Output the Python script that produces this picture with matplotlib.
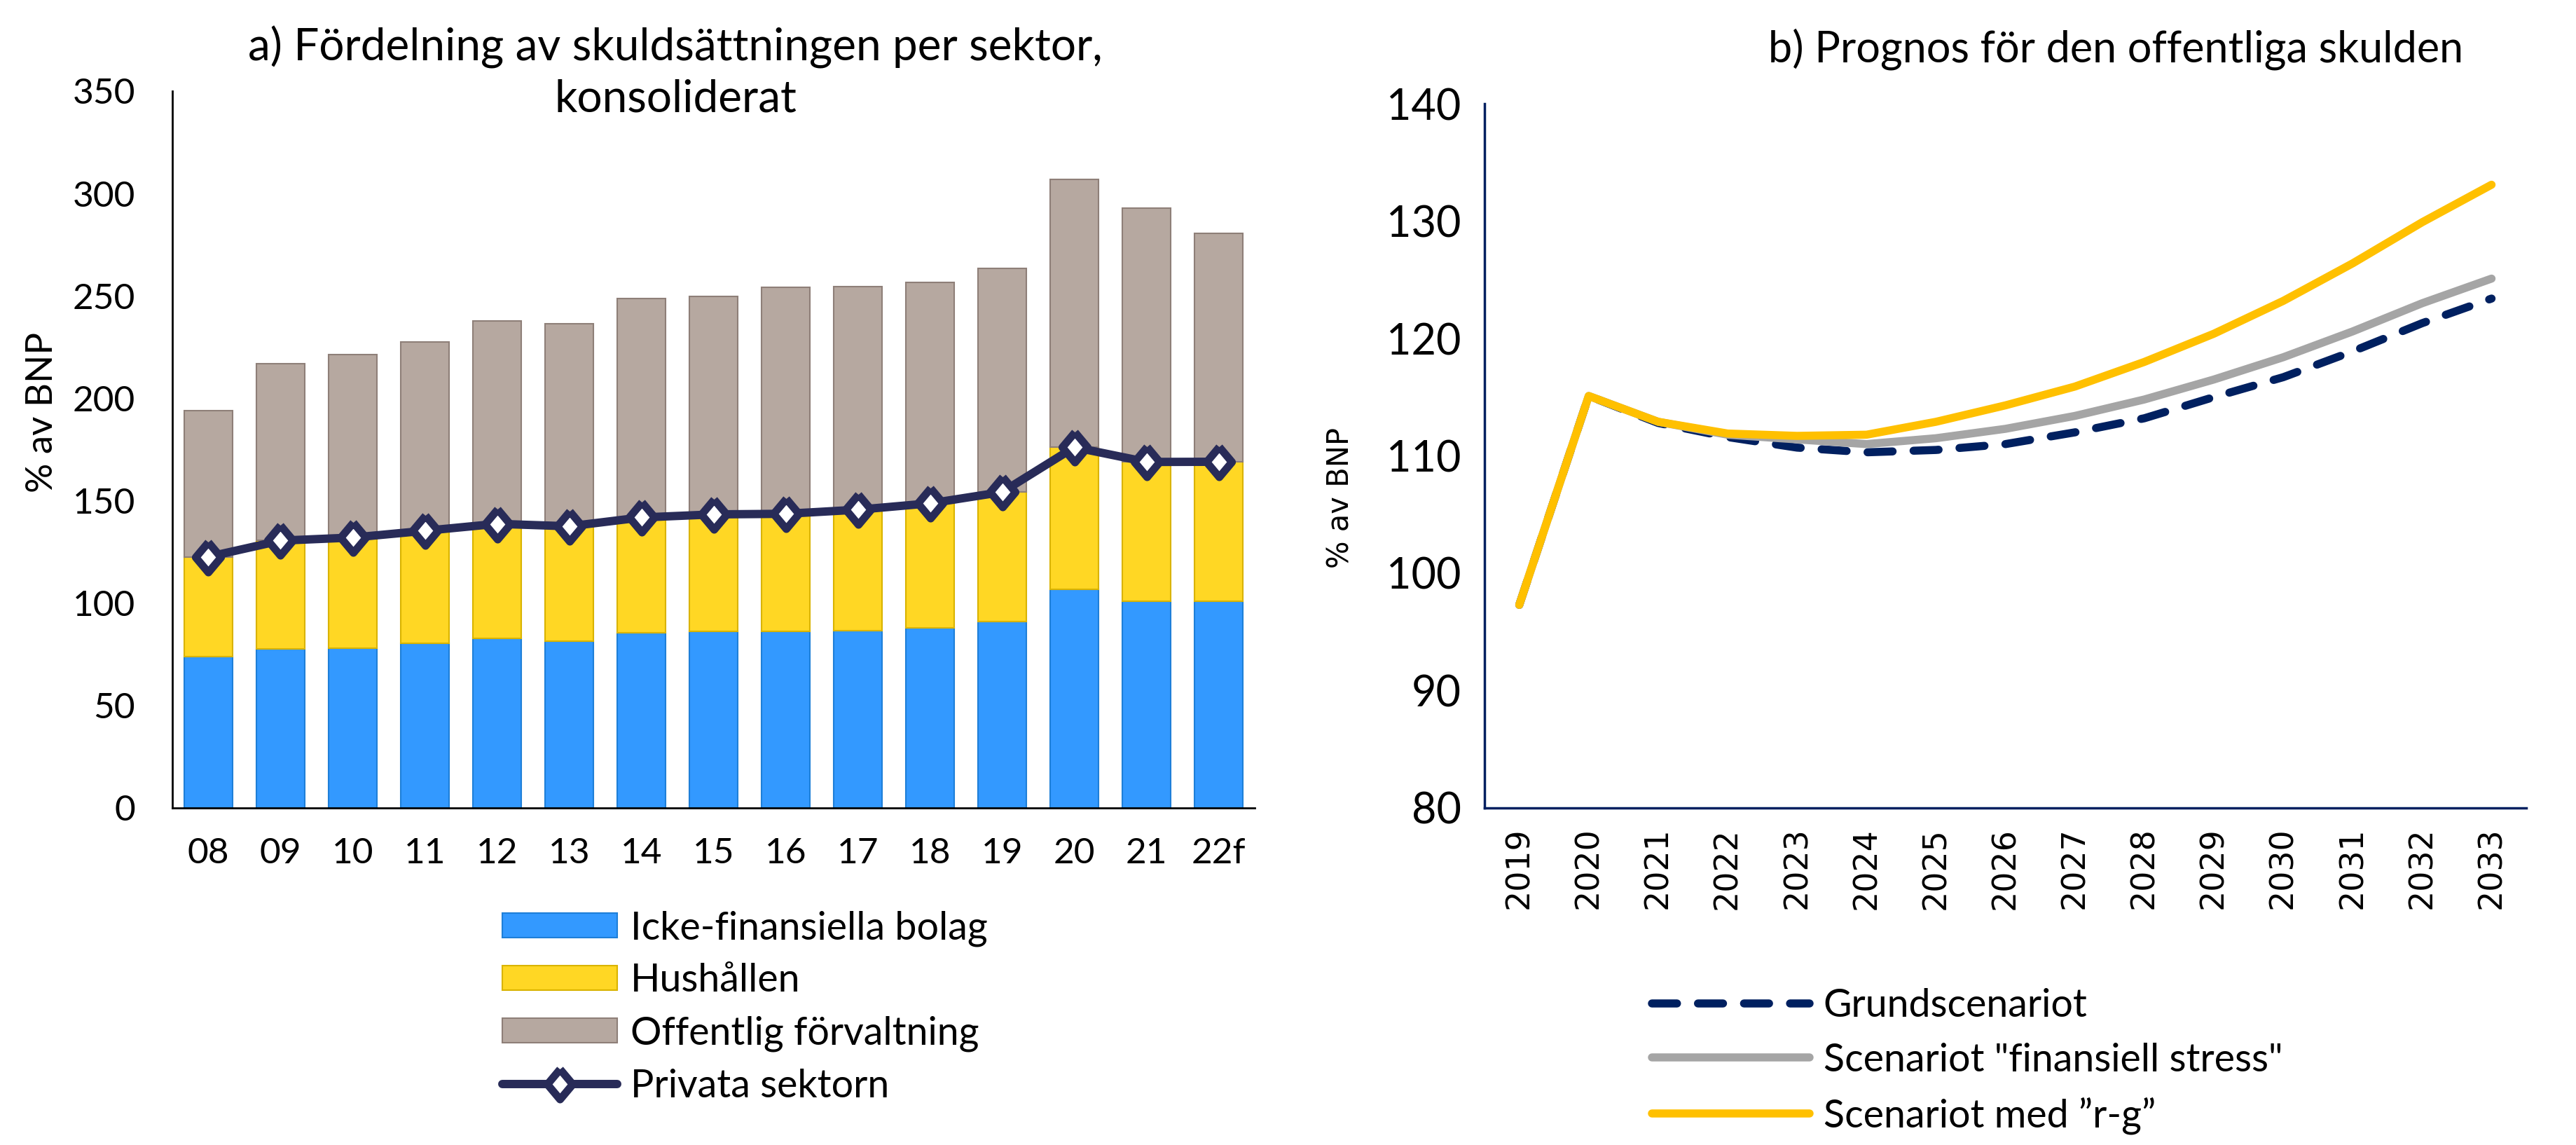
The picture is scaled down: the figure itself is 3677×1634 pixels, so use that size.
import matplotlib
matplotlib.use("Agg")
import matplotlib.pyplot as plt
from matplotlib.lines import Line2D
from matplotlib.patches import Patch
from matplotlib.markers import MarkerStyle
import numpy as np

# ---------------- data: panel a ----------------
years_a = ["08", "09", "10", "11", "12", "13", "14", "15", "16", "17", "18", "19", "20", "21", "22f"]
icke_fin = [73.8, 77.6, 78.1, 80.5, 82.9, 81.5, 85.6, 86.3, 86.2, 86.4, 87.9, 91.1, 106.6, 101.0, 101.0]
privata = [122.6, 130.5, 132.0, 135.3, 138.7, 137.5, 141.8, 143.3, 143.6, 145.6, 148.7, 154.2, 176.1, 168.9, 169.0]
totalt = [194.0, 216.8, 221.4, 227.6, 237.7, 236.5, 248.6, 249.8, 254.3, 254.6, 256.6, 263.4, 307.0, 292.7, 280.5]
hushall = [p - b for p, b in zip(privata, icke_fin)]
offentlig = [t - p for t, p in zip(totalt, privata)]

# ---------------- data: panel b ----------------
years_b = list(range(2019, 2034))
grund = [97.3, 115.1, 112.8, 111.6, 110.7, 110.3, 110.5, 111.0, 112.0, 113.2, 115.0, 116.7, 118.9, 121.3, 123.4]
stress = [97.3, 115.1, 112.9, 111.8, 111.4, 111.0, 111.5, 112.3, 113.4, 114.8, 116.5, 118.4, 120.6, 123.0, 125.1]
rg = [97.3, 115.1, 112.9, 111.9, 111.7, 111.8, 112.9, 114.3, 115.9, 118.0, 120.4, 123.2, 126.4, 129.9, 133.1]

FONT = ["Lato", "DejaVu Sans"]
plt.rcParams["font.family"] = FONT

fig = plt.figure(figsize=(36.77, 16.34), dpi=100)

diamond = MarkerStyle([(0, 1), (0.84, 0), (0, -1), (-0.84, 0), (0, 1)], joinstyle="round")

# ---------------- panel a ----------------
ax1 = fig.add_axes([0.0669, 0.2944, 0.4202, 0.6261])
x = np.arange(len(years_a))
w = 0.67
c_blue, c_yel, c_grey, c_navy = "#3399FF", "#FFD724", "#B6A8A0", "#282B58"
e_blue, e_yel, e_grey = "#1E7FD8", "#D9B300", "#8E7F78"
ax1.bar(x, icke_fin, w, color=c_blue, edgecolor=e_blue, linewidth=1.5, zorder=2)
ax1.bar(x, hushall, w, bottom=icke_fin, color=c_yel, edgecolor=e_yel, linewidth=1.5, zorder=2)
ax1.bar(x, offentlig, w, bottom=privata, color=c_grey, edgecolor=e_grey, linewidth=1.5, zorder=2)
ax1.plot(x, privata, color=c_navy, lw=8.6, marker=diamond, markersize=31, markerfacecolor="white",
         markeredgecolor=c_navy, markeredgewidth=8, solid_joinstyle="round", zorder=3)
ax1.set_xlim(-0.5, len(years_a) - 0.5)
ax1.set_ylim(0, 350)
ax1.set_yticks(range(0, 351, 50))
ax1.set_xticks(x)
ax1.set_xticklabels(years_a)
ax1.tick_params(axis="x", length=0, labelsize=37, pad=30)
ax1.tick_params(axis="y", length=0, labelsize=37, pad=38)
for s in ["top", "right"]:
    ax1.spines[s].set_visible(False)
for s in ["left", "bottom"]:
    ax1.spines[s].set_color("black")
    ax1.spines[s].set_linewidth(2)
ax1.set_ylabel("% av BNP", fontsize=38)
ax1.yaxis.set_label_coords(-0.105, 0.552)
fig.text(0.2622, 0.9367, "a) Fördelning av skuldsättningen per sektor,\nkonsoliderat",
         fontsize=46, ha="center", va="center", multialignment="center", linespacing=1.3)

leg_handles = [
    Patch(facecolor=c_blue, edgecolor=e_blue, linewidth=1.5, label="Icke-finansiella bolag"),
    Patch(facecolor=c_yel, edgecolor=e_yel, linewidth=1.5, label="Hushållen"),
    Patch(facecolor=c_grey, edgecolor=e_grey, linewidth=1.5, label="Offentlig förvaltning"),
    Line2D([0], [0], color=c_navy, lw=8.6, marker=diamond, markersize=31, markerfacecolor="white",
           markeredgecolor=c_navy, markeredgewidth=8, solid_capstyle="round", label="Privata sektorn"),
]
fig.legend(handles=leg_handles, loc="upper left", bbox_to_anchor=(0.195, 0.205), frameon=False,
           fontsize=40, handlelength=2.95, handleheight=0.6, labelspacing=0.43, handletextpad=0.35,
           borderpad=0, borderaxespad=0)

# ---------------- panel b ----------------
ax2 = fig.add_axes([0.5763, 0.2944, 0.4044, 0.6150])
c_gnavy, c_ggrey, c_gyel = "#002060", "#A5A5A5", "#FFC000"
LW = 8.3
DASH = (3.1, 2.6)
ax2.plot(years_b, grund, color=c_gnavy, lw=LW, dashes=DASH, dash_capstyle="round", zorder=2)
ax2.plot(years_b, stress, color=c_ggrey, lw=LW, solid_capstyle="round", solid_joinstyle="round", zorder=3)
ax2.plot(years_b, rg, color=c_gyel, lw=LW, solid_capstyle="round", solid_joinstyle="round", zorder=4)
ax2.set_xlim(2018.5, 2033.5)
ax2.set_ylim(80, 140)
ax2.set_yticks(range(80, 141, 10))
ax2.set_xticks(years_b)
ax2.set_xticklabels([str(y) for y in years_b], rotation=90, family=["DejaVu Sans"])
ax2.tick_params(axis="x", length=0, labelsize=33, pad=20)
ax2.tick_params(axis="y", length=0, labelsize=44, pad=24)
for s in ["top", "right"]:
    ax2.spines[s].set_visible(False)
for s in ["left", "bottom"]:
    ax2.spines[s].set_color(c_gnavy)
    ax2.spines[s].set_linewidth(2.5)
ax2.set_ylabel("% av BNP", fontsize=30, family=["DejaVu Sans"])
ax2.yaxis.set_label_coords(-0.124, 0.44)
fig.text(0.8213, 0.957, "b) Prognos för den offentliga skulden", fontsize=44, ha="center", va="center")

leg2 = [
    Line2D([0], [0], color=c_gnavy, lw=LW, dashes=DASH, dash_capstyle="round", label="Grundscenariot"),
    Line2D([0], [0], color=c_ggrey, lw=LW, solid_capstyle="round", label='Scenariot "finansiell stress"'),
    Line2D([0], [0], color=c_gyel, lw=LW, solid_capstyle="round", label="Scenariot med \u201dr-g\u201d"),
]
fig.legend(handles=leg2, loc="upper left", bbox_to_anchor=(0.6413, 0.137), frameon=False,
           fontsize=40, handlelength=4.05, labelspacing=0.48, handletextpad=0.35,
           borderpad=0, borderaxespad=0)

fig.savefig("out.png", dpi=100, facecolor="white")
